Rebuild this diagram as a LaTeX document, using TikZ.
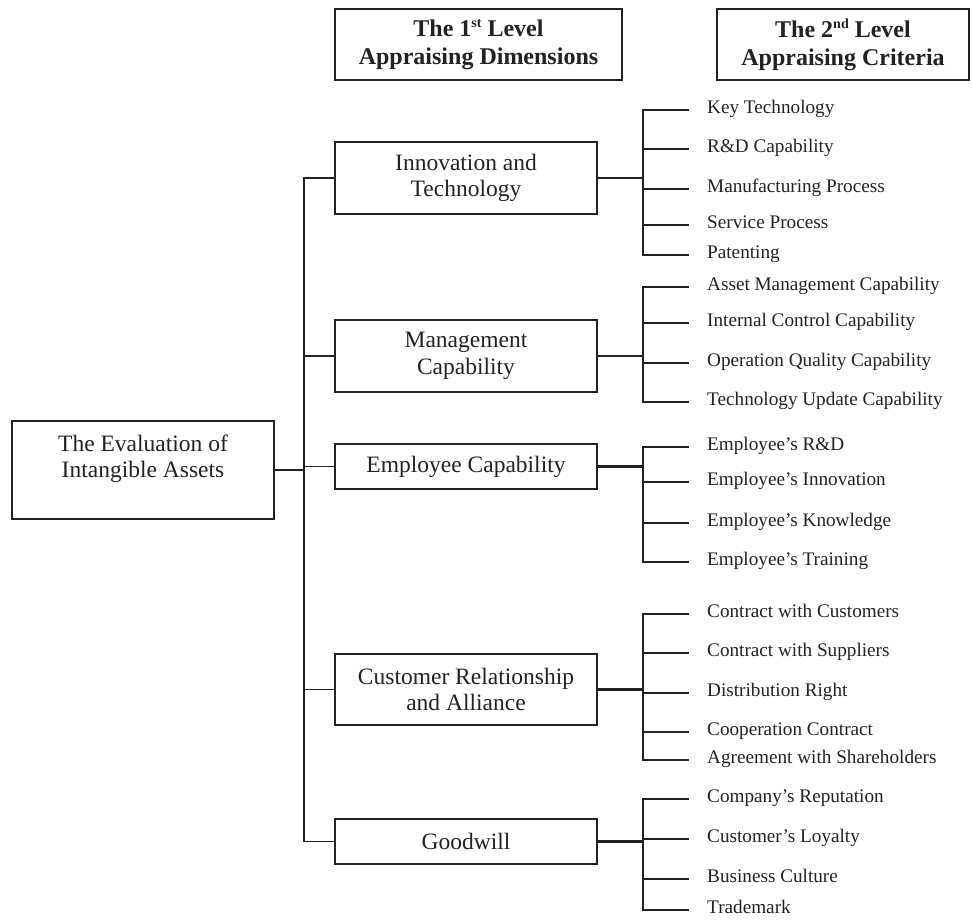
\documentclass[tikz,border=0pt]{standalone}
\usepackage{fontspec}
\setmainfont{Liberation Serif}
\definecolor{lc}{HTML}{222222}
\newcommand\mysup[1]{\raisebox{0.8ex}{\fontsize{14bp}{14bp}\selectfont #1}}
\begin{document}
\begin{tikzpicture}[x=1bp,y=-1bp,
  box/.style={draw=lc, line width=1.3bp, inner sep=0pt, align=center, text=lc},
  lone/.style={font=\fontsize{23.5bp}{26.5bp}\selectfont},
  hdr/.style={box, font=\fontsize{24bp}{28bp}\selectfont\bfseries, minimum height=71bp},
  crit/.style={anchor=west, inner sep=0pt, text=lc, text height=0.66em, text depth=0pt, font=\fontsize{19.2bp}{22bp}\selectfont},
  tick/.style={draw=lc, line width=1.1bp},
  trunk/.style={draw=lc, line width=1.3bp},
  conn/.style={draw=lc, line width=2.2bp},
  stub/.style={draw=lc, line width=1.1bp}]
\useasboundingbox (0,0) rectangle (972,922);

% headers
\node[hdr, minimum width=287bp] (h1) at (478.5,44.5) {The 1\mysup{st} Level\\Appraising Dimensions};
\node[hdr, minimum width=252bp] (h2) at (843,44.5) {The 2\mysup{nd} Level\\Appraising Criteria};

% root
\node[box, minimum width=262bp, minimum height=98bp] (root) at (143,470) {};
\node[lone, align=center, inner sep=0pt, text=lc] (rootlabel) at (143,459) {The Evaluation of\\Intangible Assets};

% level 1
\node[box, lone, minimum width=262bp, minimum height=72bp] (inn) at (466,178) {Innovation and\\Technology};
\node[box, lone, minimum width=262bp, minimum height=72bp] (man) at (466,356) {Management\\Capability};
\node[box, lone, minimum width=262bp, minimum height=45bp] (emp) at (466,466.5) {Employee Capability};
\node[box, lone, minimum width=262bp, minimum height=71bp] (cus) at (466,689.5) {Customer Relationship\\and Alliance};
\node[box, lone, minimum width=262bp, minimum height=45bp] (goo) at (466,841.5) {Goodwill};

\coordinate (tx) at (304,0);
\coordinate (bx) at (643,0);

\draw[conn] (root.east) -- (root.east -| tx);
\draw[trunk] (inn.west) -| (tx |- goo.west) -- (goo.west);
\foreach \n in {man,emp,cus} \draw[stub] (\n.west) -- (\n.west -| tx);

% criteria
\node[crit] (c11) at (707,110) {Key Technology};
\node[crit] (c12) at (707,149) {R\&D Capability};
\node[crit] (c13) at (707,189) {Manufacturing Process};
\node[crit] (c14) at (707,225) {Service Process};
\node[crit] (c15) at (707,255) {Patenting};

\node[crit] (c21) at (707,287) {Asset Management Capability};
\node[crit] (c22) at (707,323) {Internal Control Capability};
\node[crit] (c23) at (707,363) {Operation Quality Capability};
\node[crit] (c24) at (707,402) {Technology Update Capability};

\node[crit] (c31) at (707,447) {Employee's R\&D};
\node[crit] (c32) at (707,482) {Employee's Innovation};
\node[crit] (c33) at (707,523) {Employee's Knowledge};
\node[crit] (c34) at (707,562) {Employee's Training};

\node[crit] (c41) at (707,614) {Contract with Customers};
\node[crit] (c42) at (707,653) {Contract with Suppliers};
\node[crit] (c43) at (707,693) {Distribution Right};
\node[crit] (c44) at (707,732) {Cooperation Contract};
\node[crit] (c45) at (707,760) {Agreement with Shareholders};

\node[crit] (c51) at (707,799) {Company's Reputation};
\node[crit] (c52) at (707,839) {Customer's Loyalty};
\node[crit] (c53) at (707,879) {Business Culture};
\node[crit] (c54) at (707,910) {Trademark};

% branches
\draw[conn] (inn.east) -- (inn.east -| bx);
\draw[conn] (man.east) -- (man.east -| bx);
\draw[conn] (emp.east) -- (emp.east -| bx);
\draw[conn] (cus.east) -- (cus.east -| bx);
\draw[conn] (goo.east) -- (goo.east -| bx);

\draw[tick] ([xshift=-18bp]c11.west) -| (c15.west -| bx) -- ([xshift=-18bp]c15.west);
\foreach \c in {c12,c13,c14} \draw[tick] (\c.west -| bx) -- ([xshift=-18bp]\c.west);

\draw[tick] ([xshift=-18bp]c21.west) -| (c24.west -| bx) -- ([xshift=-18bp]c24.west);
\foreach \c in {c22,c23} \draw[tick] (\c.west -| bx) -- ([xshift=-18bp]\c.west);

\draw[tick] ([xshift=-18bp]c31.west) -| (c34.west -| bx) -- ([xshift=-18bp]c34.west);
\foreach \c in {c32,c33} \draw[tick] (\c.west -| bx) -- ([xshift=-18bp]\c.west);

\draw[tick] ([xshift=-18bp]c41.west) -| (c45.west -| bx) -- ([xshift=-18bp]c45.west);
\foreach \c in {c42,c43,c44} \draw[tick] (\c.west -| bx) -- ([xshift=-18bp]\c.west);

\draw[tick] ([xshift=-18bp]c51.west) -| (c54.west -| bx) -- ([xshift=-18bp]c54.west);
\foreach \c in {c52,c53} \draw[tick] (\c.west -| bx) -- ([xshift=-18bp]\c.west);
\end{tikzpicture}
\end{document}
